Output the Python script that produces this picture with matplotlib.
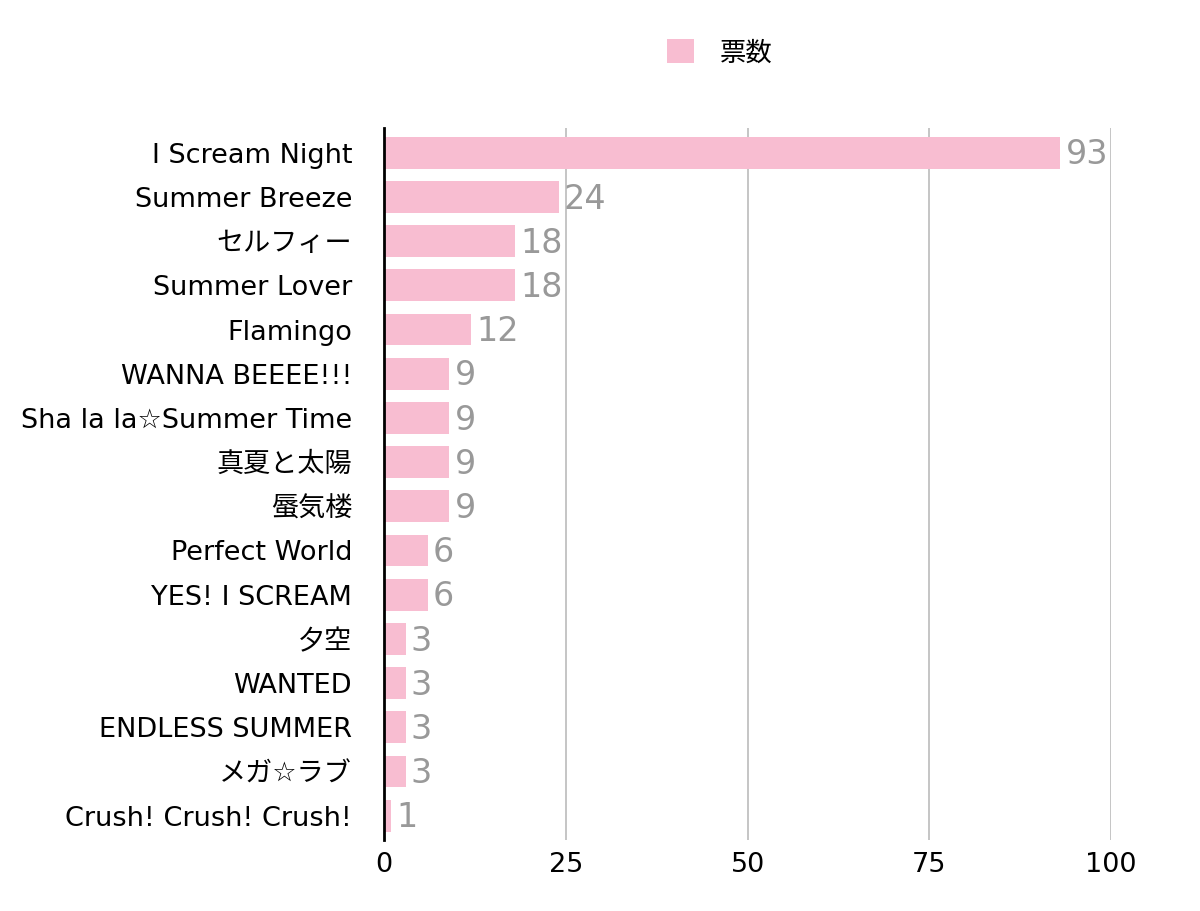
import matplotlib as mpl
import numpy as np

mpl.use('Agg')
from matplotlib import pyplot as plt

plt.rcParams['font.family'] = ['DejaVu Sans', 'Noto Sans CJK JP']

songs = [
    'I Scream Night', 'Summer Breeze', 'セルフィー', 'Summer Lover',
    'Flamingo', 'WANNA BEEEE!!!', 'Sha la la☆Summer Time', '真夏と太陽',
    '蜃気楼', 'Perfect World', 'YES! I SCREAM', '夕空', 'WANTED',
    'ENDLESS SUMMER', 'メガ☆ラブ', 'Crush! Crush! Crush!',
]
votes = [93, 24, 18, 18, 12, 9, 9, 9, 9, 6, 6, 3, 3, 3, 3, 1]
xticks = [0, 25, 50, 75, 100]

fig = plt.figure(figsize=(12, 9.11), dpi=100)
ax = fig.add_axes([0.32, 0.078, 0.606, 0.782])

y = np.arange(len(songs))
bars = ax.barh(y, votes, height=0.72, color='#f8bdd1', label='票数', zorder=2)
for yi, v in zip(y, votes):
    ax.text(v + 0.7, yi + 0.05, str(v), va='center', ha='left', fontsize=24,
            color='#999999', zorder=3)

ax.set_yticks(y)
ax.set_yticklabels(songs, fontsize=19.5)
ax.set_ylim(len(songs) - 0.45, -0.57)
ax.set_xlim(0, 100)
ax.set_xticks(xticks)
ax.set_xticklabels([str(t) for t in xticks], fontsize=19.5)
ax.tick_params(length=0)
ax.tick_params(axis='x', pad=9)
ax.tick_params(axis='y', pad=23)
ax.grid(axis='x', color='#bbbbbb', linewidth=1.2, zorder=0)
for s in ['top', 'right', 'bottom']:
    ax.spines[s].set_visible(False)
ax.spines['left'].set_linewidth(2)
ax.spines['left'].set_zorder(4)

fig.legend(handles=[bars], labels=['票数'], loc='center',
           bbox_to_anchor=(0.6, 0.942), frameon=False, fontsize=19,
           handlelength=1.0, handleheight=1.0, handletextpad=1.0)

plt.savefig('out.png')
